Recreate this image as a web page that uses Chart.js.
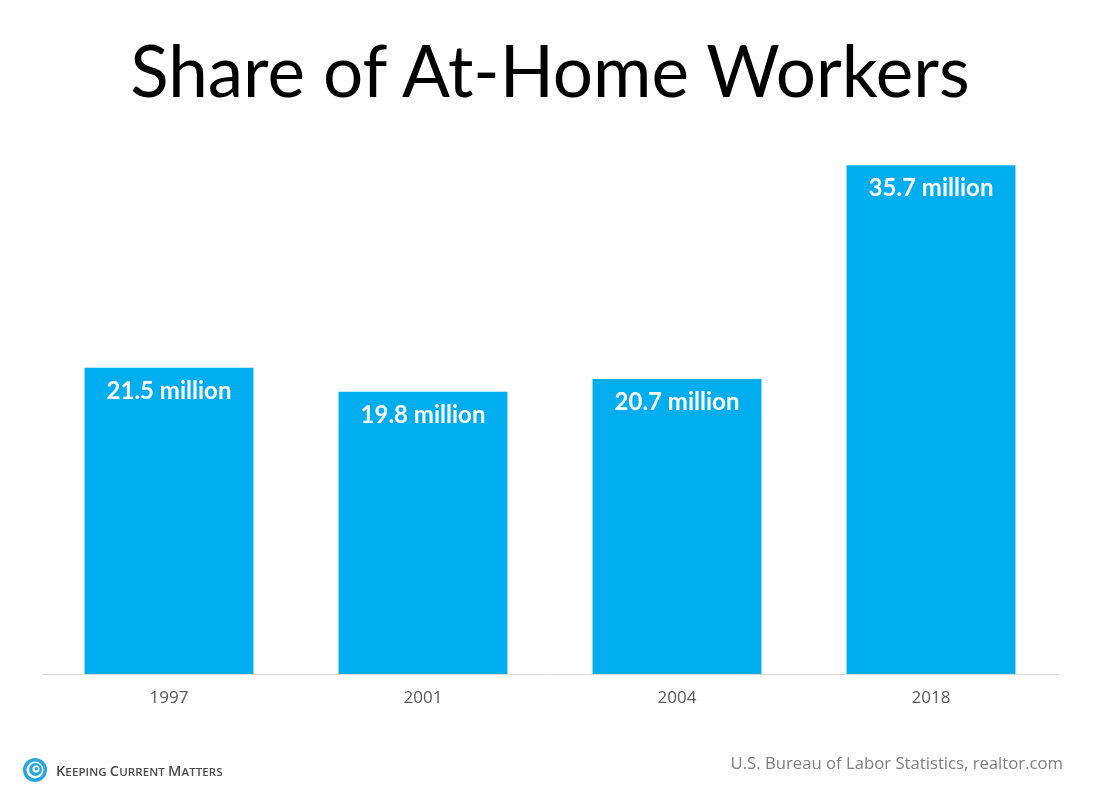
<!DOCTYPE html>
<html>
<head>
<meta charset="utf-8">
<script src="https://cdn.jsdelivr.net/npm/chart.js@4"></script>
<style>
  html, body { margin: 0; padding: 0; background: #fff; }
  #wrap { position: relative; width: 1100px; height: 805px; overflow: hidden; }
  #title { position: absolute; left: 0; top: 27px; width: 1100px; text-align: center;
    font-family: Lato, "Open Sans", sans-serif; font-size: 71px; color: #000; white-space: nowrap; }
  #c { position: absolute; left: 0; top: 0; }
  #source { position: absolute; right: 37px; top: 751px; font-family: "Open Sans", sans-serif;
    font-size: 16.7px; color: #7f7f7f; }
  #logo { position: absolute; left: 22px; top: 757px; height: 26px; display: flex; align-items: center; }
  #logo span { font-family: "Open Sans", sans-serif; font-weight: 600; color: #4a4a4a; font-size: 11.5px;
    margin-left: 8px; letter-spacing: 0.1px; }
  #logo span b { font-size: 14.5px; font-weight: 600; }
</style>
</head>
<body>
<div id="wrap">
  <canvas id="c" width="1100" height="805"></canvas>
  <div id="title">Share of At-Home Workers</div>
  <div id="logo">
    <svg width="26" height="26" viewBox="0 0 26 26">
      <circle cx="13" cy="13" r="12" fill="#29a8e0"/>
      <circle cx="13" cy="13" r="8.5" fill="#fff"/>
      <circle cx="13.5" cy="12.5" r="6.5" fill="#29a8e0"/>
      <circle cx="14" cy="12" r="3.5" fill="#fff"/>
      <circle cx="14.3" cy="11.8" r="1.8" fill="#29a8e0"/>
    </svg>
    <span><b>K</b>EEPING <b>C</b>URRENT <b>M</b>ATTERS</span>
  </div>
  <div id="source">U.S. Bureau of Labor Statistics, realtor.com</div>
</div>
<script>
const categories = ["1997", "2001", "2004", "2018"];
const workersMillions = [21.5, 19.8, 20.7, 35.7];
const valueLabels = ["21.5 million", "19.8 million", "20.7 million", "35.7 million"];

const barLabelPlugin = {
  id: 'barLabels',
  afterDatasetsDraw(chart) {
    const ctx = chart.ctx;
    const meta = chart.getDatasetMeta(0);
    ctx.save();
    ctx.fillStyle = '#ffffff';
    ctx.font = 'bold 24px Lato, "Open Sans", sans-serif';
    ctx.textAlign = 'center';
    ctx.textBaseline = 'alphabetic';
    meta.data.forEach((bar, i) => {
      ctx.fillText(valueLabels[i], bar.x, bar.y + 31);
    });
    ctx.restore();
  }
};

new Chart(document.getElementById('c'), {
  type: 'bar',
  data: {
    labels: categories,
    datasets: [{
      data: workersMillions,
      backgroundColor: '#00adee',
      borderWidth: 0,
      barPercentage: 0.665,
      categoryPercentage: 1.0
    }]
  },
  options: {
    responsive: false,
    animation: false,
    devicePixelRatio: 1,
    layout: { padding: { left: 42, right: 42, top: 104, bottom: 71 } },
    plugins: { legend: { display: false }, tooltip: { enabled: false }, title: { display: false } },
    scales: {
      x: {
        grid: { display: false, drawTicks: false },
        border: { display: true, color: '#d9d9d9', width: 1 },
        ticks: { color: '#595959', font: { family: '"Open Sans", sans-serif', size: 17 }, padding: 14 },
        afterFit(scale) { scale.height = 60; }
      },
      y: {
        display: false,
        min: 0,
        max: 40
      }
    }
  },
  plugins: [barLabelPlugin]
});
</script>
</body>
</html>
